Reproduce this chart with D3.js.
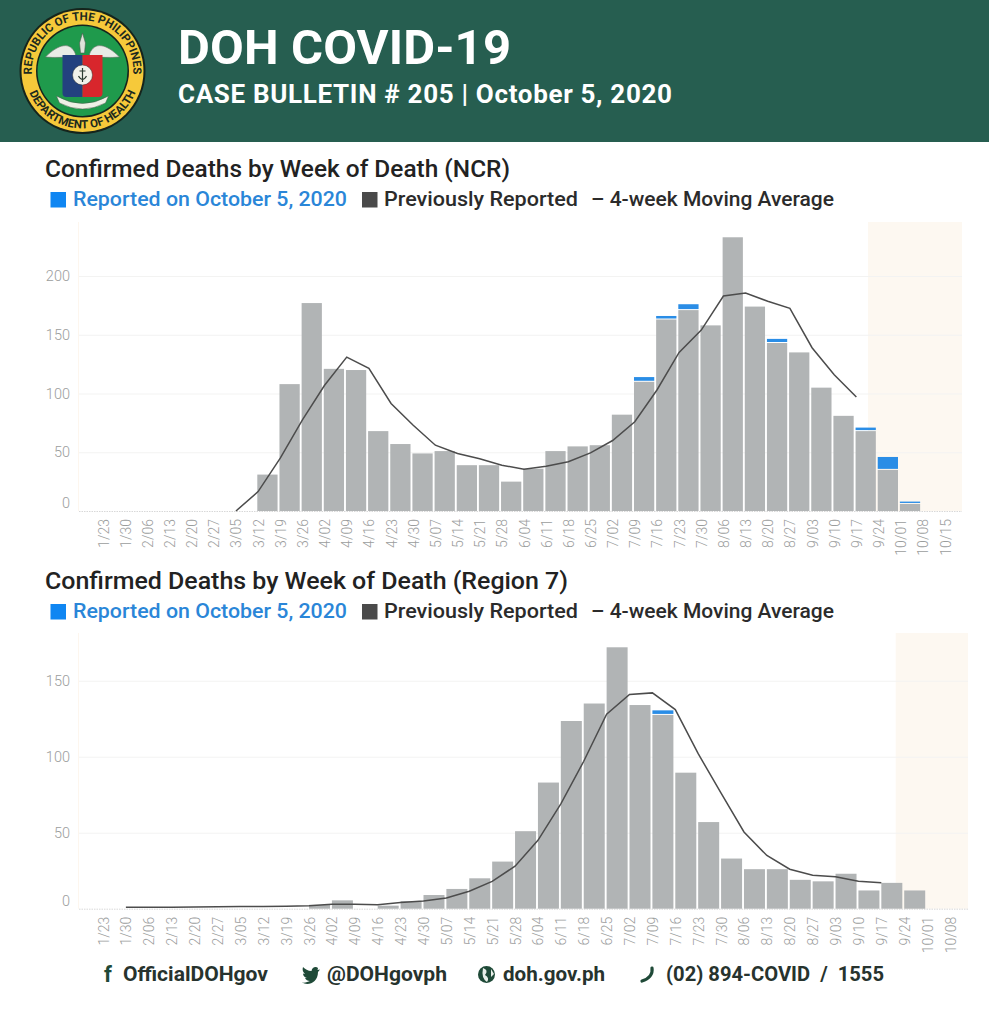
<!DOCTYPE html>
<html><head><meta charset="utf-8">
<script src="https://cdn.jsdelivr.net/npm/d3@7"></script>
<style>
html,body{margin:0;padding:0;background:#fff;}
svg{display:block;}
text{font-family:Roboto,sans-serif;}
</style></head><body><svg id="c" width="989" height="1024"></svg>
<script>
const weeksNCR=["1/23","1/30","2/06","2/13","2/20","2/27","3/05","3/12","3/19","3/26","4/02","4/09","4/16","4/23","4/30","5/07","5/14","5/21","5/28","6/04","6/11","6/18","6/25","7/02","7/09","7/16","7/23","7/30","8/06","8/13","8/20","8/27","9/03","9/10","9/17","9/24","10/01","10/08","10/15"];
const weeksR7=weeksNCR.slice(0,38);
const ncrPrev=[0,0,0,0,0,0,0,31,108,177,121,120,68,57,49,51,39,39,25,36,51,55,56,82,110,163,171,158,233,174,143,135,105,81,68,35,6,0,0];
const ncrNew =[0,0,0,0,0,0,0,0,0,0,0,0,0,0,0,0,0,0,0,0,0,0,0,0,4,3,5,0,0,0,3.5,0,0,0,3,11,2,0,0];
const ncrAvg =[null,null,null,null,null,null,0,16.5,45,77.5,107,131,121.5,91.5,73,56,49,44.5,39,35.5,38,42,49.5,60,76,103,135,154,183,185.5,178.5,172.5,139,116,97,null,null,null,null];
const r7Prev=[0,0,0,0,0,0,0,0,0,2.5,5.5,0,2,5,9,13,20,31,51,83,123.5,135,172,134,127.5,89.5,57,33,26,26,19,18,23,12,17,12,0,0];
const r7New =[0,0,0,0,0,0,0,0,0,0,0,0,0,0,0,0,0,0,0,0,0,0,0,0,3,0,0,0,0,0,0,0,0,0,0,0,0,0];
const r7Avg =[null,1,1,1,1.2,1.3,1.4,1.5,1.6,2,3,3,2.6,4,5,7,11.5,18,28,45,69,97,128,141,142,131,102,76,50.5,35,26,22,21,18,17,null,null,null];
const yTicksNCR=[0,50,100,150,200];
const yTicksR7=[0,50,100,150];
const legendBlue="Reported on October 5, 2020", legendGray="Previously Reported", legendLine="– 4-week Moving Average";

const svg=d3.select("#c");
const GREY="#b1b4b5",BLUE="#2a8de6",LINE="#4c4c4c",TICK="#9b9d9d";

// Header
svg.append("rect").attr("width",989).attr("height",142).attr("fill","#265e50");
svg.append("text").attr("x",178).attr("y",64).attr("fill","#fff").attr("font-size",49).attr("font-weight",700).attr("textLength",333).text("DOH COVID-19");
svg.append("text").attr("x",178).attr("y",103).attr("fill","#fff").attr("font-size",26).attr("font-weight",700).attr("textLength",494).text("CASE BULLETIN # 205 | October 5, 2020");

// Seal
const seal=svg.append("g").attr("transform","translate(82.5,71)");
seal.append("circle").attr("r",63).attr("fill","#15241c");
seal.append("circle").attr("r",61).attr("fill","#f6c93a");
seal.append("circle").attr("r",46.5).attr("fill","#15241c");
seal.append("circle").attr("r",45).attr("fill","#1f9a4c");
const defs=svg.append("defs");
defs.append("path").attr("id","arcTop").attr("d","M-50,9 A50.8,50.8 0 1 1 50,9");
defs.append("path").attr("id","arcBot").attr("d","M-57,6 A57.3,57.3 0 0 0 57,6");
seal.append("text").attr("font-size",11.5).attr("font-weight",700).attr("fill","#1c2a1e")
 .append("textPath").attr("href","#arcTop").attr("startOffset","50%").attr("text-anchor","middle").text("REPUBLIC OF THE PHILIPPINES");
seal.append("text").attr("font-size",11.5).attr("font-weight",700).attr("fill","#1c2a1e")
 .append("textPath").attr("href","#arcBot").attr("startOffset","50%").attr("text-anchor","middle").text("DEPARTMENT OF HEALTH");
// wings
seal.append("path").attr("d","M-7,-17 C-12,-30 -24,-27 -37,-14 C-28,-13 -18,-14 -7,-14Z").attr("fill","#e8ece6").attr("stroke","#5c6b60").attr("stroke-width",.6);
seal.append("path").attr("d","M7,-17 C12,-30 24,-27 37,-14 C28,-13 18,-14 7,-14Z").attr("fill","#e8ece6").attr("stroke","#5c6b60").attr("stroke-width",.6);
seal.append("path").attr("d","M0,-38 L3,-28 L2,-18 L-2,-18 L-3,-28Z").attr("fill","#dfe3da").attr("stroke","#4b5a4f").attr("stroke-width",.6);
// shield
seal.append("path").attr("d","M-20,-16 H0 V26 H-16 Q-20,26 -20,22Z").attr("fill","#23417f");
seal.append("path").attr("d","M0,-16 H20 V22 Q20,26 16,26 H0Z").attr("fill","#d8262c");
seal.append("circle").attr("cy",4).attr("r",10).attr("fill","#f1f1ea").attr("stroke","#333").attr("stroke-width",.5);
seal.append("path").attr("d","M0,-3 V11 M-4,5 Q0,12 4,5 M-3,0 H3").attr("fill","none").attr("stroke","#2b3a30").attr("stroke-width",1.2);
seal.append("path").attr("d","M-26,25 Q0,40 26,25 L23,32 Q0,44 -23,32Z").attr("fill","#eef0e6").attr("stroke","#4b5a4f").attr("stroke-width",.5);

function chart(o){
  const x=d3.scalePoint().domain(o.weeks).range(o.xRange);
  const y=d3.scaleLinear().domain([0,o.yMax]).range([o.baseY,o.topY]);
  const g=svg.append("g");
  // Titles and legend
  g.append("text").attr("x",45).attr("y",o.titleY).attr("font-size",23.5).attr("font-weight",500).attr("fill","#222").attr("textLength",o.titleLen).attr("lengthAdjust","spacingAndGlyphs").text(o.title);
  const ly=o.titleY+29;
  const fit=(x0,w,c,t)=>g.append("text").attr("x",x0).attr("y",ly).attr("font-size",21).attr("font-weight",500).attr("fill",c).attr("textLength",w).attr("lengthAdjust","spacingAndGlyphs").text(t);
  g.append("rect").attr("x",50.5).attr("y",ly-14).attr("width",15.5).attr("height",15.5).attr("fill","#0f86f2");
  fit(73,274,"#2a86d8",legendBlue);
  g.append("rect").attr("x",362).attr("y",ly-14).attr("width",15.5).attr("height",15.5).attr("fill","#4a4a4a");
  fit(384,194,"#2b2b2b",legendGray);
  fit(591,243,"#2b2b2b",legendLine);
  // Shaded band starting part way through a week
  g.append("rect").attr("x",o.shadeX).attr("y",o.topY).attr("width",o.xEnd-o.shadeX).attr("height",o.baseY-o.topY).attr("fill","#fdf8f1");
  g.append("line").attr("x1",78.5).attr("x2",78.5).attr("y1",o.topY).attr("y2",o.baseY).attr("stroke","#fdf6ee");
  // Y axis
  const ya=g.append("g").attr("transform","translate(79,0)")
    .call(d3.axisLeft(y).tickValues(o.yTicks).tickSize(-(o.xEnd-79)).tickPadding(9));
  ya.select(".domain").remove();
  ya.selectAll(".tick line").attr("stroke-dasharray",d=>d===0?"1.5 1":null).attr("stroke",d=>d===0?"#d8d8d8":"#f3f3f2");
  ya.selectAll(".tick text").attr("fill",TICK).attr("font-size",14.5).attr("font-family","Roboto,sans-serif").attr("font-weight",300).attr("dy",d=>d===0?"-0.25em":"0.32em");
  // Bars
  const step=x.step(), rows=o.weeks.map((w,i)=>({w,p:o.prev[i],n:o.fresh[i],a:o.avg[i]}));
  g.append("g").selectAll("rect").data(rows.filter(d=>d.p>0)).join("rect")
    .attr("x",d=>x(d.w)+o.barShift).attr("width",step-1.9).attr("y",d=>y(d.p)).attr("height",d=>y(0)-y(d.p)).attr("fill",GREY);
  g.append("g").selectAll("rect").data(rows.filter(d=>d.n>0)).join("rect")
    .attr("x",d=>x(d.w)+o.barShift).attr("width",step-1.9).attr("y",d=>y(d.p+d.n)).attr("height",d=>Math.max(0,y(d.p)-y(d.p+d.n)-1)).attr("fill",BLUE);
  // Line
  const line=d3.line().defined(d=>d.a!==null).x(d=>x(d.w)).y(d=>y(d.a));
  g.append("path").datum(rows).attr("d",line).attr("fill","none").attr("stroke",LINE).attr("stroke-width",1.5);
  // X axis
  const xa=g.append("g").attr("transform",`translate(0,${o.baseY})`).call(d3.axisBottom(x).tickSize(0).tickPadding(0));
  xa.select(".domain").remove();
  xa.selectAll(".tick text").attr("fill",TICK).attr("font-size",14).attr("font-family","Roboto,sans-serif").attr("font-weight",300)
    .attr("text-anchor","end").attr("dy",null).attr("y",null)
    .attr("transform",`translate(5,${o.labelEnd}) rotate(-90)`);
}
chart({weeks:weeksNCR,prev:ncrPrev,fresh:ncrNew,avg:ncrAvg,yTicks:yTicksNCR,title:"Confirmed Deaths by Week of Death (NCR)",titleLen:465,titleY:177,
  xRange:[103,945],baseY:511,topY:222,yMax:246,xEnd:962,shadeX:868,labelEnd:8,barShift:-0.8});
chart({weeks:weeksR7,prev:r7Prev,fresh:r7New,avg:r7Avg,yTicks:yTicksR7,title:"Confirmed Deaths by Week of Death (Region 7)",titleLen:523,titleY:589,
  xRange:[103,950],baseY:908.7,topY:633,yMax:181.4,xEnd:968,shadeX:895.7,labelEnd:8,barShift:0});

// Footer
const foot=svg.append("g").attr("font-weight",700).attr("fill","#27332e").attr("font-size",21);
const ftext=(x0,w,t)=>foot.append("text").attr("x",x0).attr("y",981).attr("textLength",w).attr("lengthAdjust","spacingAndGlyphs").text(t);
foot.append("text").attr("x",104).attr("y",982).attr("fill","#1f4a38").attr("font-size",22).text("f");
ftext(123,145,"OfficialDOHgov");
foot.append("path").attr("transform","translate(302,966)").attr("fill","#1f4a38")
  .attr("d","M16,2 C14,0 10,1 9.5,5 C6,5 3,3 1,1 C0,4 1,6 3,8 L1,7.5 C1,10 3,11.5 5,12 L3,12 C4,14 5.5,15 8,15 C6,16 3,17 0,16.5 C6,20 16,17 16,6 L18,3.5 L15.5,4Z");
ftext(327,120,"@DOHgovph");
foot.append("circle").attr("cx",486.5).attr("cy",974.5).attr("r",8.5).attr("fill","#1f4a38");
foot.append("path").attr("d","M483,968 Q489,970 485,975 Q490,978 487,982 Q481,978 483,968Z M491,969 L494,974 L491,977Z").attr("fill","#e8efe9");
ftext(503,102,"doh.gov.ph");
foot.append("path").attr("d","M652,968 C653,974 649,979 642,981").attr("fill","none").attr("stroke","#1f4a38").attr("stroke-width",3.2).attr("stroke-linecap","round");
ftext(666,218,"(02) 894-COVID  /  1555").attr("xml:space","preserve").style("white-space","pre");
</script></body></html>
